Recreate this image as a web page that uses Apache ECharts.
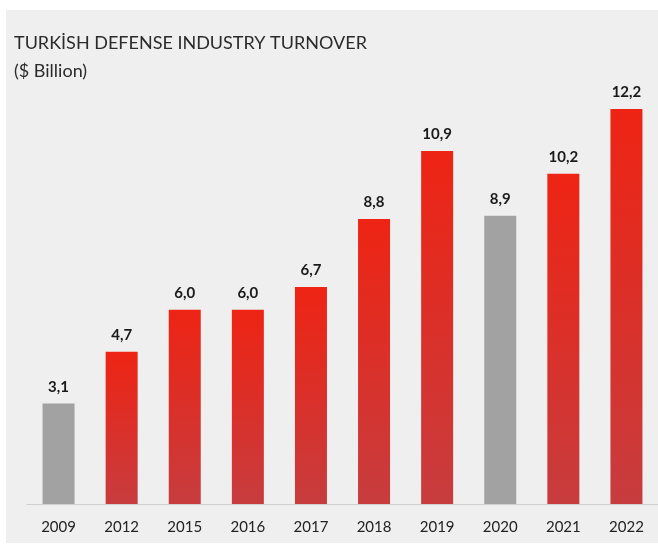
<!DOCTYPE html>
<html>
<head>
<meta charset="utf-8">
<style>
  html, body { margin: 0; padding: 0; background: #ffffff; }
  #chart { width: 658px; height: 547px; }
</style>
<script src="https://cdn.jsdelivr.net/npm/echarts@6/dist/echarts.min.js"></script>
</head>
<body>
<div id="chart"></div>
<script>
// Turnover of the Turkish defense industry, billions of US dollars
const years = ['2009', '2012', '2015', '2016', '2017', '2018', '2019', '2020', '2021', '2022'];
const turnover = [3.1, 4.7, 6.0, 6.0, 6.7, 8.8, 10.9, 8.9, 10.2, 12.2];
// Years drawn in neutral gray instead of red
const grayYears = ['2009', '2020'];

const FONT = 'Lato, "Open Sans", sans-serif';

const redFill = new echarts.graphic.LinearGradient(0, 0, 0, 1, [
  { offset: 0, color: '#ee2414' },
  { offset: 1, color: '#c73c3e' }
]);

const barData = years.map((y, i) => ({
  value: turnover[i],
  itemStyle: { color: grayYears.includes(y) ? '#a2a2a2' : redFill }
}));

const chart = echarts.init(document.getElementById('chart'), null, { renderer: 'canvas' });
chart.setOption({
  backgroundColor: '#ffffff',
  animation: false,
  graphic: [
    {
      type: 'rect',
      z: -10,
      shape: { x: 6, y: 10, width: 652, height: 533 },
      style: { fill: '#efefef' },
      silent: true
    },
    {
      type: 'text',
      left: 14,
      top: 34,
      style: {
        text: 'TURKİSH DEFENSE INDUSTRY TURNOVER',
        fontFamily: FONT,
        fontSize: 18,
        fill: '#2b2b2b'
      }
    },
    {
      type: 'text',
      left: 14,
      top: 62,
      style: {
        text: '($ Billion)',
        fontFamily: FONT,
        fontSize: 18,
        fill: '#2b2b2b'
      }
    }
  ],
  grid: { left: 27, right: -9, top: 83, bottom: 43, containLabel: false },
  xAxis: {
    type: 'category',
    data: years,
    axisLine: { show: true, lineStyle: { color: '#cfcfcf', width: 1 } },
    axisTick: { show: false },
    axisLabel: {
      color: '#222222',
      fontFamily: FONT,
      fontSize: 15,
      margin: 16
    }
  },
  yAxis: {
    type: 'value',
    min: 0,
    max: 13,
    show: false,
    splitLine: { show: false }
  },
  series: [{
    type: 'bar',
    data: barData,
    barWidth: 32,
    label: {
      show: true,
      position: 'top',
      distance: 9,
      fontFamily: FONT,
      fontSize: 15,
      fontWeight: 'bold',
      color: '#1a1a1a',
      formatter: p => p.value.toFixed(1).replace('.', ',')
    }
  }]
});
</script>
</body>
</html>
